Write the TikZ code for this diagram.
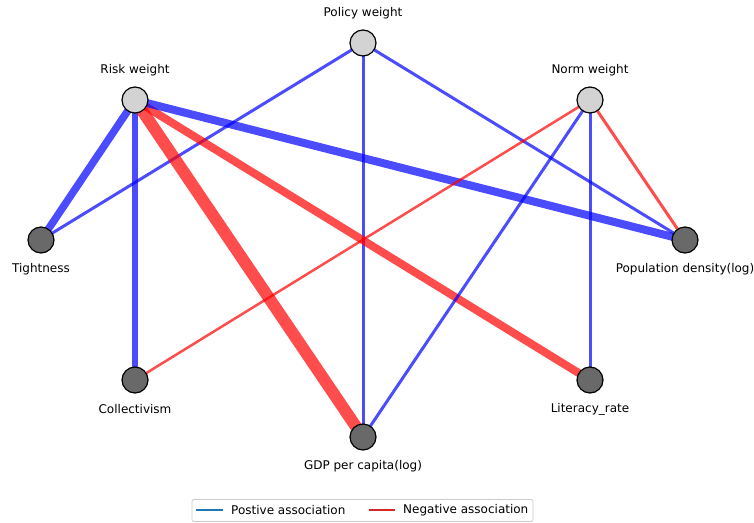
\documentclass[tikz,border=0pt]{standalone}
\usepackage{fontspec}
\setmainfont{DejaVu Sans}
\definecolor{tabblue}{RGB}{31,119,180}
\definecolor{tabred}{RGB}{214,39,40}
\definecolor{legframe}{RGB}{204,204,204}
\definecolor{lightnode}{RGB}{211,211,211}
\definecolor{darknode}{RGB}{105,105,105}
\begin{document}
\begin{tikzpicture}[x=1pt,y=-1pt,
  wnode/.style={circle,draw=black,line width=1.2pt,minimum size=26pt,inner sep=0pt},
  lightn/.style={wnode,fill=lightnode},
  darkn/.style={wnode,fill=darknode},
  lbl/.style={font=\fontsize{12}{14}\selectfont,inner sep=0pt,anchor=center},
  posedge/.style={draw=blue,draw opacity=0.7,line cap=butt},
  negedge/.style={draw=red,draw opacity=0.7,line cap=butt}]
\useasboundingbox (0,0) rectangle (754,522);
% node coordinates
\coordinate (P) at (363,43);
\coordinate (R) at (135,100);
\coordinate (N) at (590,100);
\coordinate (T) at (41,240);
\coordinate (D) at (685,240);
\coordinate (C) at (135,380);
\coordinate (L) at (590,380);
\coordinate (G) at (363,437);
% edges
\draw[posedge,line width=3pt] (P) -- (T);
\draw[posedge,line width=3pt] (P) -- (G);
\draw[posedge,line width=3pt] (P) -- (D);
\draw[posedge,line width=7.5pt] (R) -- (T);
\draw[posedge,line width=6.5pt] (R) -- (C);
\draw[negedge,line width=12pt] (R) -- (G);
\draw[negedge,line width=8pt] (R) -- (L);
\draw[posedge,line width=8pt] (R) -- (D);
\draw[negedge,line width=2.5pt] (N) -- (C);
\draw[posedge,line width=3pt] (N) -- (G);
\draw[posedge,line width=3pt] (N) -- (L);
\draw[negedge,line width=3pt] (N) -- (D);
% nodes
\node[lightn] (p) at (P) {};
\node[lightn] (r) at (R) {};
\node[lightn] (n) at (N) {};
\node[darkn] (t) at (T) {};
\node[darkn] (d) at (D) {};
\node[darkn] (c) at (C) {};
\node[darkn] (l) at (L) {};
\node[darkn] (g) at (G) {};
% labels
\node[lbl] (pl) at (363,13) {Policy weight};
\node[lbl] (rl) at (135,70) {Risk weight};
\node[lbl] (nl) at (590,70) {Norm weight};
\node[lbl] (tl) at (41,269.5) {Tightness};
\node[lbl] (dl) at (685,269.5) {Population density(log)};
\node[lbl] (cl) at (135,409.5) {Collectivism};
\node[lbl] (ll) at (590,409.5) {Literacy\_rate};
\node[lbl] (gl) at (363,466.5) {GDP per capita(log)};
% legend
\node[draw=legframe,fill=white,rounded corners=2pt,line width=0.8pt,
  minimum width=341pt,minimum height=22pt,inner sep=0pt] (leg) at (362.5,510.5) {};
\coordinate (b1) at (196,510);
\coordinate (b2) at (223,510);
\coordinate (r1) at (369,510);
\coordinate (r2) at (395,510);
\draw[tabblue,line width=1.5pt] (b1) -- (b2);
\draw[tabred,line width=1.5pt] (r1) -- (r2);
\node[lbl,anchor=west] (lp) at (231,510) {Postive association};
\node[lbl,anchor=west] (ln) at (403,510) {Negative association};
\end{tikzpicture}
\end{document}
